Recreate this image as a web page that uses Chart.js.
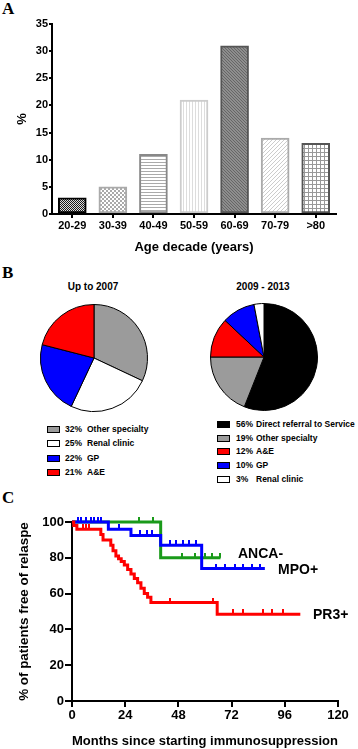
<!DOCTYPE html>
<html>
	<head>
		<title>Age, referral source and relapse</title>
		<script src="https://cdn.jsdelivr.net/npm/chart.js@4.4.0/dist/chart.umd.min.js"></script>
		<style>
			body { margin: 0; width: 358px; height: 749px; position: relative; background: #fff; overflow: hidden; font-family: Arial, "Liberation Sans", sans-serif; }
			canvas, .txt { position: absolute; }
			.panel { position: absolute; font-family: "Times New Roman", "Liberation Serif", serif; font-weight: bold; font-size: 17px; line-height: 17px; }
			.txt { font-weight: bold; white-space: nowrap; }
			.ptitle { font-size: 10px; line-height: 12px; width: 100px; text-align: center; }
			.leg { font-size: 8.5px; line-height: 12px; }
			.leg .box { position: absolute; top: 3px; width: 11px; height: 5px; border: 1px solid #000; }
			.leg .pct { position: absolute; }
			.leg .lab { position: absolute; }
			.lbl { font-size: 14px; line-height: 14px; }
		</style>
	</head>
	<body>
		<div class="panel" style="left:2px; top:0px;">A</div>
		<div class="panel" style="left:2px; top:264px;">B</div>
		<div class="panel" style="left:2px; top:489px;">C</div>

		<canvas id="chartA" width="358" height="255" style="left:0; top:0;"></canvas>

		<div class="txt ptitle" style="left:43px; top:281px;">Up to 2007</div>
		<div class="txt ptitle" style="left:213px; top:281px;">2009 - 2013</div>
		<canvas id="pie1" width="108" height="108" style="left:40px; top:304px;"></canvas>
		<canvas id="pie2" width="108" height="108" style="left:210px; top:303px;"></canvas>
		<div id="legend1"></div>
		<div id="legend2"></div>

		<canvas id="chartC" width="358" height="249" style="left:0; top:500px;"></canvas>
		<div class="txt lbl" style="left:238px; top:546px;">ANCA-</div>
		<div class="txt lbl" style="left:278px; top:562px;">MPO+</div>
		<div class="txt lbl" style="left:313px; top:607px;">PR3+</div>

		<script>
			// --- dane: panel A
			const ageDecades = ['20-29', '30-39', '40-49', '50-59', '60-69', '70-79', '>80'];
			const agePercent = [3, 5, 11, 21, 31, 14, 13];

			// --- dane: panel B
			const sources2007 = ['Other specialty', 'Renal clinic', 'GP', 'A&E'];
			const percent2007 = [32, 25, 22, 21];
			const sources2013 = ['Direct referral to Service', 'Other specialty', 'A&E', 'GP', 'Renal clinic'];
			const percent2013 = [56, 19, 12, 10, 3];

			// --- dane: panel C (Kaplan-Meier)
			const pr3Months = [0, 0.8, 2.2, 13, 14, 17.5, 18.5, 19.8, 21, 22.2, 23.6, 25.1, 26.6, 28.1, 29.6, 31.1, 32.6, 34.1, 35.6, 65.5, 103];
			const pr3Free = [100, 98, 96, 93, 90, 87, 84, 81, 79.5, 78, 76, 73.5, 71, 68.5, 66, 63, 60, 58, 55, 48.5, 48.5];
			const pr3CensorMonths = [4.8, 6.3, 7.8, 44, 63.5, 72.5, 77, 86, 90, 95];
			const pr3CensorFree = [96, 96, 96, 55, 55, 48.5, 48.5, 48.5, 48.5, 48.5];

			const mpoMonths = [0, 16.4, 26.6, 40, 58.5, 87];
			const mpoFree = [100, 96, 92.5, 87, 74, 74];
			const mpoCensorMonths = [2.5, 4, 6.3, 8.6, 10, 11.6, 13.1, 21.2, 30.7, 33.7, 35.9, 44, 47, 50, 53, 56, 65, 69, 73.5, 77, 81, 85];
			const mpoCensorFree = [100, 100, 100, 100, 100, 100, 100, 96, 92.5, 92.5, 92.5, 87, 87, 87, 87, 87, 74, 74, 74, 74, 74, 74];

			const ancaMonths = [0, 40, 67];
			const ancaFree = [100, 80, 80];
			const ancaCensorMonths = [30.4, 36.7, 49.4, 55.4, 60, 63, 66.8];
			const ancaCensorFree = [100, 100, 80, 80, 80, 80, 80];

			Chart.defaults.font.family = 'Arial, "Liberation Sans", sans-serif';
			Chart.defaults.color = '#000';

			// wzory wypełnienia słupków
			function makePattern(w, h, draw) {
				const c = document.createElement('canvas');
				c.width = w; c.height = h;
				const g = c.getContext('2d');
				draw(g);
				return g.createPattern(c, 'repeat');
			}
			const patterns = [
				makePattern(2, 2, g => { g.fillStyle = '#ddd'; g.fillRect(0, 0, 2, 2); g.fillStyle = '#1a1a1a'; g.fillRect(0, 0, 1, 1); g.fillRect(1, 1, 1, 1); }),
				makePattern(4, 4, g => { g.fillStyle = '#fff'; g.fillRect(0, 0, 4, 4); g.fillStyle = '#aaa'; g.fillRect(0, 0, 2, 2); g.fillRect(2, 2, 2, 2); }),
				makePattern(1, 3, g => { g.fillStyle = '#fff'; g.fillRect(0, 0, 1, 3); g.fillStyle = '#aaa'; g.fillRect(0, 0, 1, 1); }),
				makePattern(3, 1, g => { g.fillStyle = '#fff'; g.fillRect(0, 0, 3, 1); g.fillStyle = '#ddd'; g.fillRect(0, 0, 1, 1); }),
				makePattern(3, 3, g => { g.fillStyle = '#8e8e8e'; g.fillRect(0, 0, 3, 3); g.fillStyle = '#666'; g.fillRect(0, 0, 1, 1); g.fillRect(1, 1, 1, 1); g.fillRect(2, 2, 1, 1); }),
				makePattern(4, 4, g => { g.fillStyle = '#fff'; g.fillRect(0, 0, 4, 4); g.fillStyle = '#ccc'; g.fillRect(3, 0, 1, 1); g.fillRect(2, 1, 1, 1); g.fillRect(1, 2, 1, 1); g.fillRect(0, 3, 1, 1); }),
				makePattern(4, 4, g => { g.fillStyle = '#fff'; g.fillRect(0, 0, 4, 4); g.fillStyle = '#999'; g.fillRect(0, 0, 4, 1); g.fillRect(0, 0, 1, 4); })
			];
			const barBorders = ['#000', '#aaa', '#888', '#ccc', '#555', '#aaa', '#555'];

			// panel A
			var ctxA = document.getElementById('chartA').getContext('2d');
			new Chart(ctxA, {
				type: 'bar',
				data: {
					labels: ageDecades,
					datasets: [{
						data: agePercent,
						backgroundColor: patterns,
						borderColor: barBorders,
						borderWidth: 2,
						borderSkipped: false,
						barThickness: 28
					}]
				},
				options: {
					responsive: false,
					animation: false,
					layout: { padding: { top: 24, right: 22, left: 0, bottom: 0 } },
					plugins: { legend: { display: false }, tooltip: { enabled: false } },
					scales: {
						x: {
							offset: true,
							grid: { offset: false, drawOnChartArea: false, drawTicks: true, tickLength: 4, color: '#000', lineWidth: 2 },
							border: { color: '#000', width: 2 },
							ticks: { font: { size: 11, weight: 'bold' }, padding: 1, maxRotation: 0 },
							title: { display: true, text: 'Age decade (years)', font: { size: 13, weight: 'bold' }, padding: { top: 0, bottom: 0 } },
							afterFit: s => { s.height = 41; }
						},
						y: {
							min: 0, max: 35,
							ticks: { stepSize: 5, font: { size: 11, weight: 'bold' }, padding: 1 },
							grid: { drawOnChartArea: false, drawTicks: true, tickLength: 3, color: '#000', lineWidth: 2 },
							border: { color: '#000', width: 2 },
							title: { display: true, text: '%', font: { size: 13, weight: 'bold' }, padding: { top: 15, bottom: 0 } },
							afterFit: s => { s.width = 52; }
						}
					}
				}
			});

			// panel B
			const colors2007 = ['#9b9b9b', '#ffffff', '#0000ff', '#ff0000'];
			const colors2013 = ['#000000', '#9b9b9b', '#ff0000', '#0000ff', '#ffffff'];

			function pie(id, values, colors) {
				new Chart(document.getElementById(id).getContext('2d'), {
					type: 'pie',
					data: { datasets: [{ data: values, backgroundColor: colors, borderColor: '#000', borderWidth: 1 }] },
					options: {
						responsive: false,
						animation: false,
						layout: { padding: 0 },
						plugins: { legend: { display: false }, tooltip: { enabled: false } }
					}
				});
			}
			pie('pie1', percent2007, colors2007);
			pie('pie2', percent2013, colors2013);

			function legend(id, labels, values, colors, left, top, step, pctX, labX) {
				let html = '';
				for (let i = 0; i < labels.length; i++) {
					html += '<div class="txt leg" style="left:' + left + 'px; top:' + (top + i * step) + 'px;">'
						+ '<span class="box" style="left:0; background:' + colors[i] + ';"></span>'
						+ '<span class="pct" style="left:' + pctX + 'px;">' + values[i] + '%</span>'
						+ '<span class="lab" style="left:' + labX + 'px;">' + labels[i].replace('&', '&amp;') + '</span></div>';
				}
				document.getElementById(id).innerHTML = html;
			}
			legend('legend1', sources2007, percent2007, colors2007, 47, 422.6, 14.6, 18, 40);
			legend('legend2', sources2013, percent2013, colors2013, 217, 418.1, 13.6, 19, 39);

			// panel C
			function tickImage(color) {
				const c = document.createElement('canvas');
				c.width = 2; c.height = 10;
				const g = c.getContext('2d');
				g.fillStyle = color;
				g.fillRect(0, 0, 2, 5);
				return c;
			}
			function toXY(xs, ys) {
				return xs.map((x, i) => ({ x: x, y: ys[i] }));
			}
			const red = '#ff0000', blue = '#0000ff', green = '#1a9a1a';

			var ctxC = document.getElementById('chartC').getContext('2d');
			new Chart(ctxC, {
				type: 'line',
				data: {
					datasets: [
						{ data: toXY(pr3Months, pr3Free), borderColor: red, borderWidth: 3, stepped: true, pointRadius: 0, fill: false },
						{ data: toXY(pr3CensorMonths, pr3CensorFree), showLine: false, pointStyle: tickImage(red), pointRadius: 5 },
						{ data: toXY(mpoMonths, mpoFree), borderColor: blue, borderWidth: 3, stepped: true, pointRadius: 0, fill: false },
						{ data: toXY(mpoCensorMonths, mpoCensorFree), showLine: false, pointStyle: tickImage(blue), pointRadius: 5 },
						{ data: toXY(ancaMonths, ancaFree), borderColor: green, borderWidth: 3, stepped: true, pointRadius: 0, fill: false },
						{ data: toXY(ancaCensorMonths, ancaCensorFree), showLine: false, pointStyle: tickImage(green), pointRadius: 5 }
					]
				},
				options: {
					responsive: false,
					animation: false,
					clip: false,
					layout: { padding: { top: 22, right: 20, left: 0, bottom: 0 } },
					plugins: { legend: { display: false }, tooltip: { enabled: false } },
					scales: {
						x: {
							type: 'linear', min: 0, max: 120,
							ticks: { stepSize: 24, font: { size: 13, weight: 'bold' }, padding: 1 },
							grid: { drawOnChartArea: false, drawTicks: true, tickLength: 6, color: '#000', lineWidth: 2 },
							border: { color: '#000', width: 2 },
							title: { display: true, text: 'Months since starting immunosuppression', font: { size: 13.6, weight: 'bold' }, padding: { top: 0, bottom: 0 } },
							afterFit: s => { s.height = 48; }
						},
						y: {
							min: 0, max: 100,
							ticks: { stepSize: 20, font: { size: 13, weight: 'bold' }, padding: 1 },
							grid: { drawOnChartArea: false, drawTicks: true, tickLength: 7, color: '#000', lineWidth: 2 },
							border: { color: '#000', width: 2 },
							title: { display: true, text: '% of patients free of relaspe', font: { size: 13.4, weight: 'bold' }, padding: { top: 16, bottom: 0 } },
							afterFit: s => { s.width = 72; }
						}
					}
				}
			});
		</script>
	</body>
</html>
